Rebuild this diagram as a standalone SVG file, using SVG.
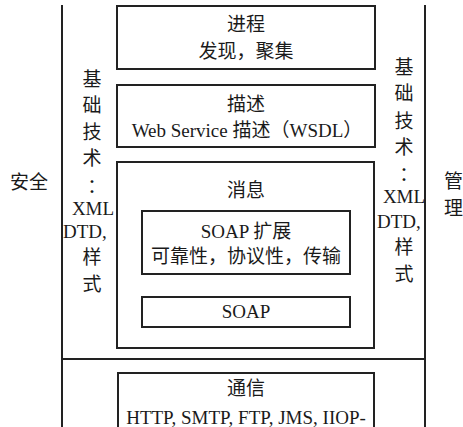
<svg xmlns="http://www.w3.org/2000/svg" width="463" height="427" viewBox="0 0 463 427">
<style>
.bx{fill:none;stroke:#222;stroke-width:2}
.ln{stroke:#222;stroke-width:2;fill:none}
text{font-family:"Liberation Serif","Noto Sans CJK SC",serif;font-size:19px;fill:#1a1a1a}
.c{text-anchor:middle}
.col{font-family:"Liberation Serif","Noto Sans CJK TC",serif}
</style>
<rect width="463" height="427" fill="#fff"/>
<g id="connectors">
<line class="ln" x1="62" y1="5" x2="62" y2="427"/>
<line class="ln" x1="425" y1="5" x2="425" y2="427"/>
<line class="ln" x1="62" y1="359" x2="425" y2="359"/>
</g>
<g id="process">
<rect class="bx" x="117" y="6" width="258" height="63"/>
<text class="c" x="246" y="31">进程</text>
<text class="c" x="246" y="58">发现，聚集</text>
</g>
<g id="description">
<rect class="bx" x="117" y="85" width="258" height="62"/>
<text class="c" x="246" y="111">描述</text>
<text class="c" x="247" y="137">Web Service 描述（WSDL）</text>
</g>
<g id="message">
<rect class="bx" x="117" y="162" width="257" height="186"/>
<text class="c" x="246" y="197">消息</text>
</g>
<g id="soap-ext">
<rect class="bx" x="142" y="211" width="208" height="63"/>
<text class="c" x="246" y="238">SOAP 扩展</text>
<text class="c" x="246" y="263">可靠性，协议性，传输</text>
</g>
<g id="soap">
<rect class="bx" x="142" y="297" width="208" height="30"/>
<text class="c" x="246" y="318">SOAP</text>
</g>
<g id="transport">
<rect class="bx" x="118" y="373" width="256" height="62"/>
<text class="c" x="246" y="395">通信</text>
<text class="c" x="246" y="424">HTTP, SMTP, FTP, JMS, IIOP-</text>
</g>
<g id="security">
<text class="c" x="29" y="189">安全</text>
</g>
<g id="base-left">
<text class="c col" x="92" y="86">基</text>
<text class="c col" x="92" y="112">础</text>
<text class="c col" x="92" y="139">技</text>
<text class="c col" x="92" y="165">术</text>
<text class="c col" x="92" y="194">：</text>
<text class="c col" x="93" y="215">XML</text>
<text class="col" x="63" y="238">DTD,</text>
<text class="c col" x="92" y="264">样</text>
<text class="c col" x="92" y="291">式</text>
</g>
<g id="base-right">
<text class="c col" x="404" y="74">基</text>
<text class="c col" x="404" y="100">础</text>
<text class="c col" x="404" y="128">技</text>
<text class="c col" x="404" y="154">术</text>
<text class="c col" x="404" y="182">：</text>
<text class="c col" x="404" y="203">XML</text>
<text class="col" x="377" y="228">DTD,</text>
<text class="c col" x="404" y="254">样</text>
<text class="c col" x="404" y="281">式</text>
</g>
<g id="management">
<text x="444" y="188">管</text>
<text x="444" y="215">理</text>
</g>
</svg>
